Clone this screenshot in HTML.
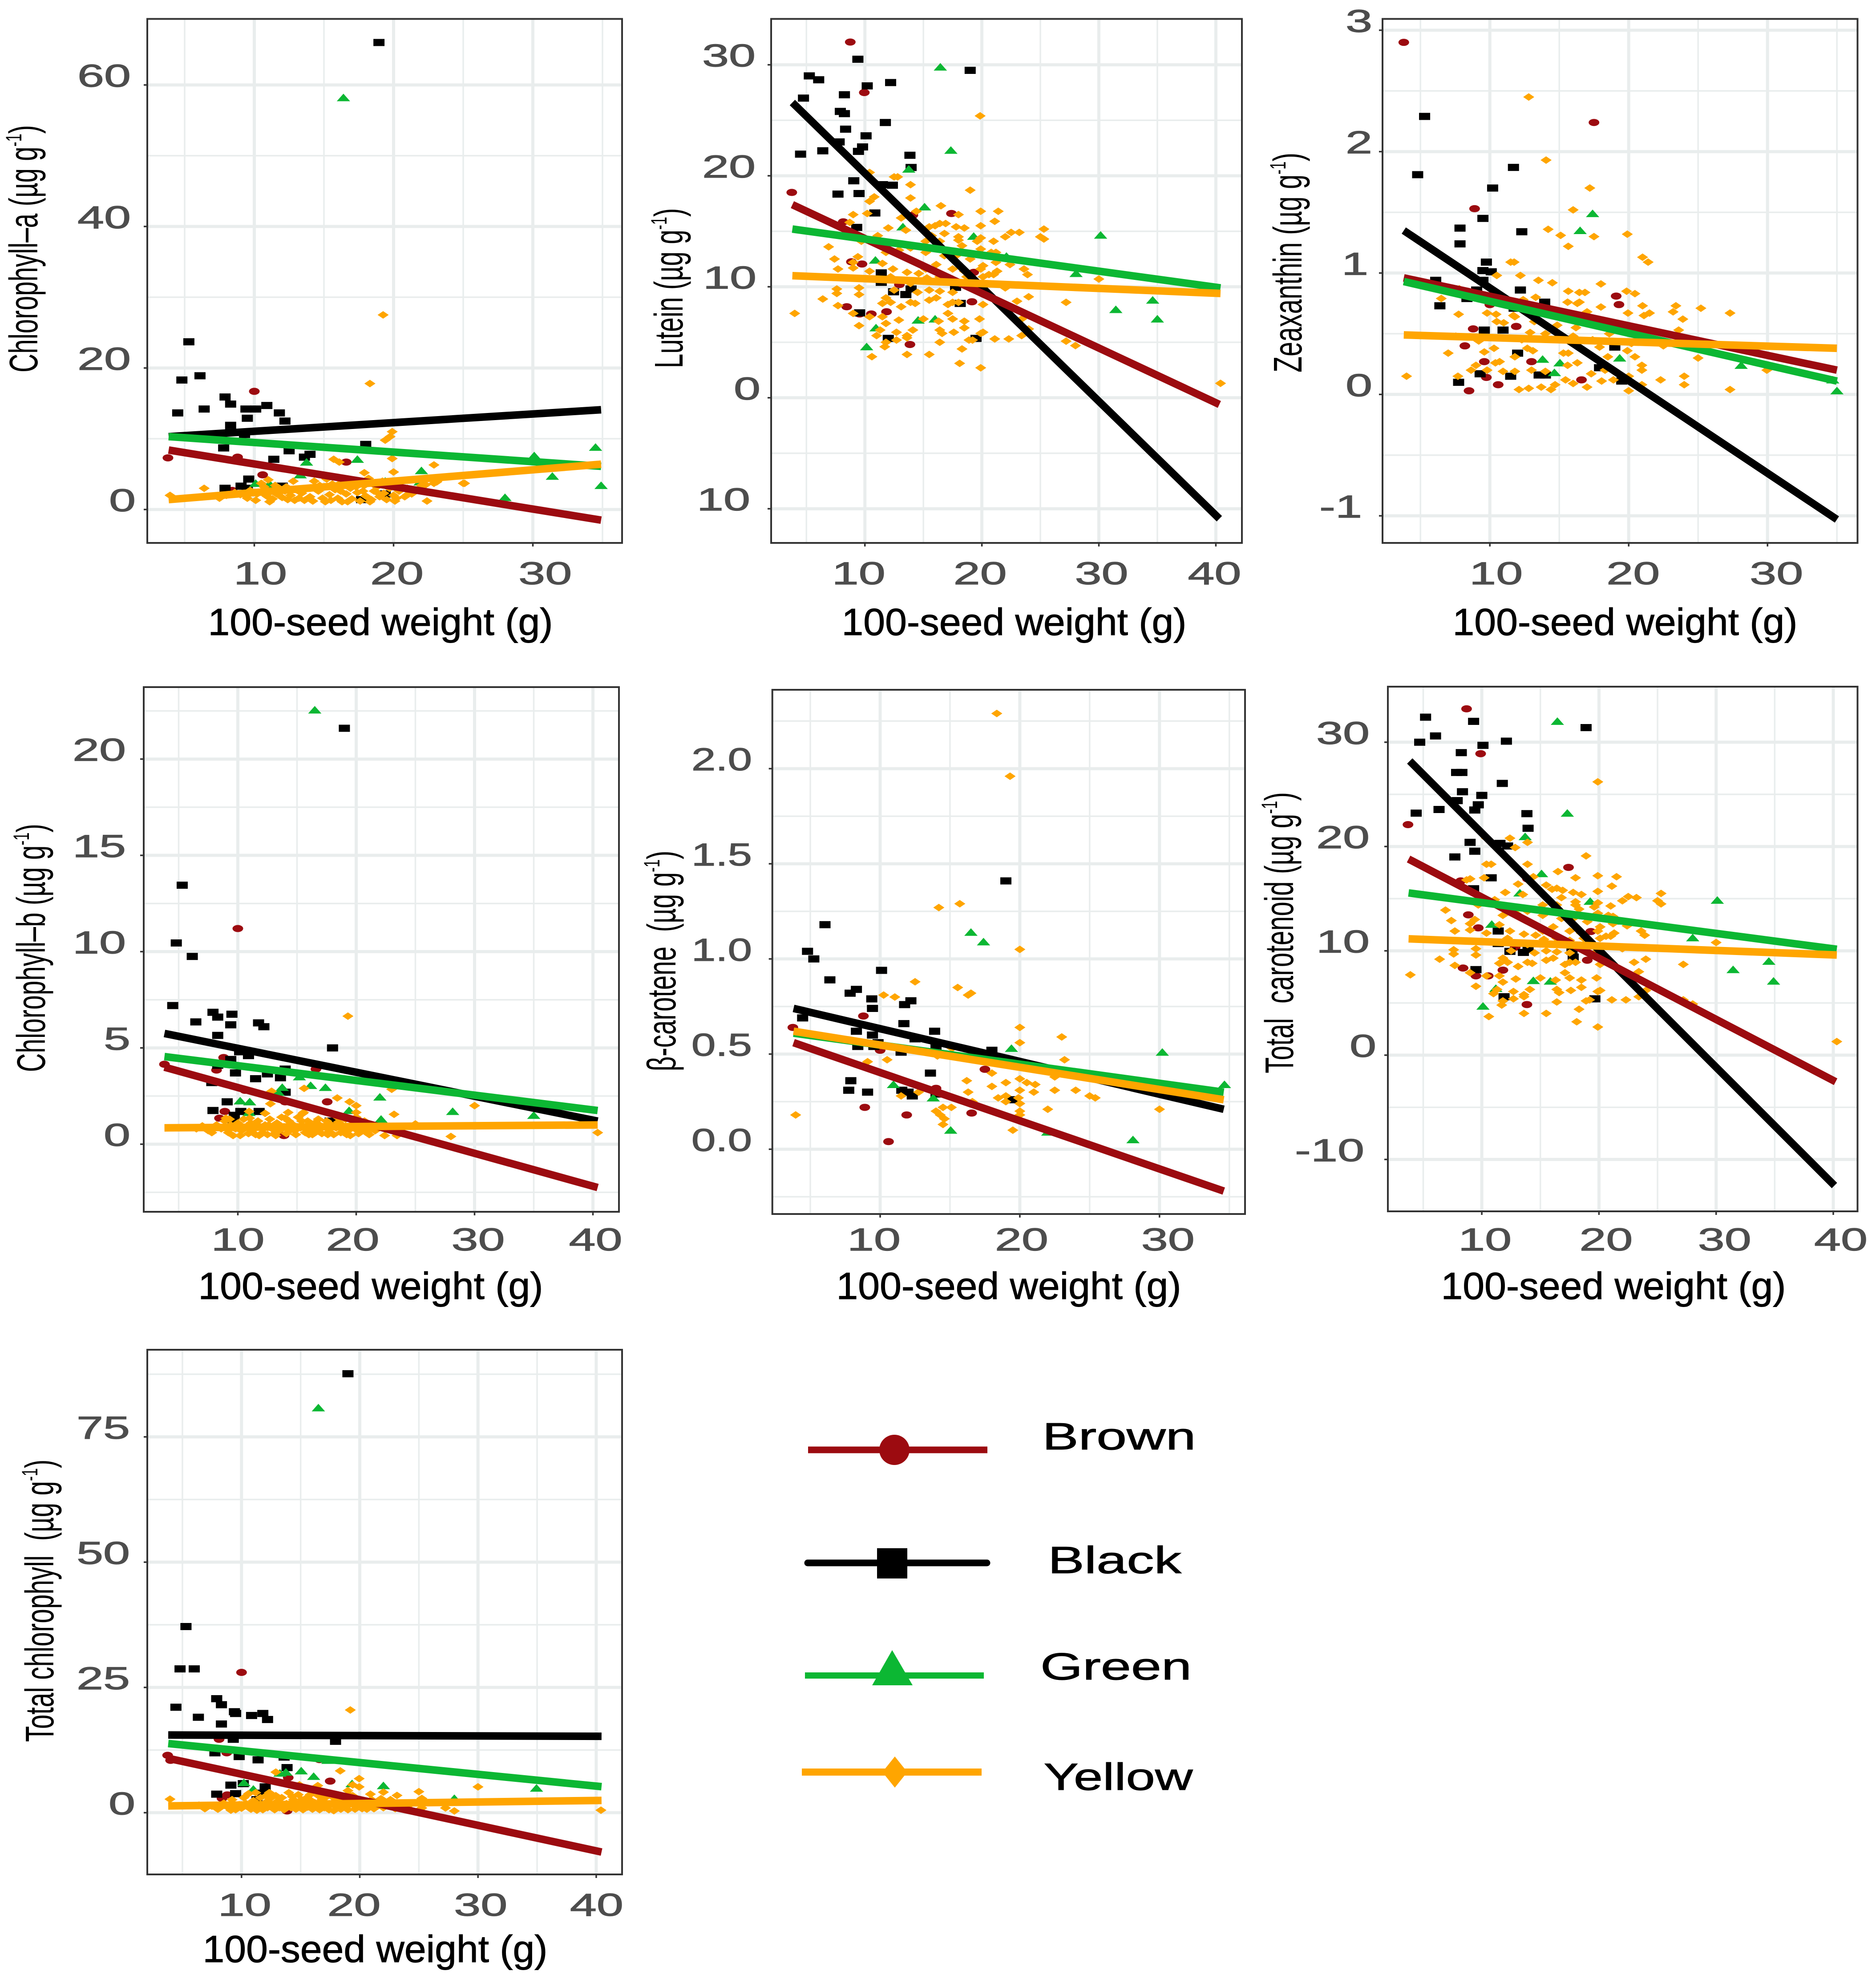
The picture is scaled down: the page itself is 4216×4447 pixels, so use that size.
<!DOCTYPE html>
<html lang="en">
<head>
<meta charset="utf-8">
<title>Seed pigments versus 100-seed weight</title>
<style>
html,body{margin:0;padding:0;background:#fff;}
svg{display:block;font-family:"Liberation Sans",sans-serif;}
</style>
</head>
<body>
<svg id="figure" xmlns="http://www.w3.org/2000/svg" width="4216" height="4447" viewBox="0 0 4216 4447"></svg>
<script>
// ---------- Chlorophyll-a ----------
const chlaBrown=[[10,16.7],[3.8,7.3],[8.8,7.4],[16.6,6.7],[10.6,4.9],[8.4,2.7]];
const chlaBlack=[[18.95,66],[5.3,23.7],[4.8,18.3],[6.1,18.9],[4.5,13.65],[6.4,14.2],[7.9,15.9],[8.3,14.9],[9.4,14.2],[10.1,14.2],[10.9,14.7],[11.8,13.65],[12.2,12.5],[9.5,12.9],[8.3,11.9],[8.3,10.9],[9.3,10.6],[4.5,10.3],[7.8,8.7],[12.5,8.3],[11.4,7.1],[13.6,7.4],[14,7.8],[18,9.2],[9.6,4.3],[7.9,3],[9.05,3.3],[9.5,3],[12,3.3],[11.4,3.1],[17.7,1.4],[19.4,2.2]];
const chlaGreen=[[16.4,58.2],[13.75,6.7],[17.4,7.1],[30.1,7.6],[34.5,8.8],[31.4,4.7],[34.9,3.4],[28,1.7],[22,5.5],[13.3,4.9],[10.1,3.7],[11.1,3.6],[19.4,4],[21.9,3.9]];
const chlaYellow=[[19.25,27.5],[18.3,17.8],[19.9,11],[19.75,10.3],[19.4,9.8],[15.7,7.1],[16.1,6.7],[19.9,7.2],[22.9,6.3],[6.4,3],[25.1,3.7],[25,3.7],[22.4,1.2],[23.1,4],[20,5.3],[17.9,5.2],[3.95,2],[7.5,1.6],[8,2],[8.6,2.4],[9,2.1],[9.5,1.6],[9.7,2.7],[10.1,1.3],[10.2,2.2],[10.5,3.7],[10.7,3.2],[10.9,1.9],[11,4.2],[11.2,2.6],[11.3,1.5],[11.6,2.2],[11.8,3],[12,1.7],[12.2,2.6],[12.4,1.4],[12.6,2],[12.8,4],[13,2.8],[13.2,1.6],[13.4,2.3],[13.6,1.3],[14,1.8],[14,3],[14.3,4],[14.6,2.6],[14.9,1.6],[15,3.2],[15.2,4.3],[15.4,2.1],[15.5,1.3],[15.8,2.8],[16,1.6],[16.1,3.6],[16.3,1.1],[16.6,2.2],[16.9,3],[17,1.5],[17.2,4],[17.4,2.4],[17.6,1.2],[17.9,3.4],[18,1.9],[18.2,4.4],[18.4,1.4],[18.6,2.6],[18.8,3.2],[19,1.8],[19.2,4],[19.3,2.3],[19.5,1.4],[19.7,3],[20,2],[20,3.6],[20.2,1.6],[20.4,2.6],[20.8,1.8],[21,2.1],[21.3,2.2],[22,3.4],[22.3,3.5],[22.9,3.7],[23.1,3.9],[11.1,1.1],[11.5,3.4],[12.3,3.2],[12.9,1.3],[13.7,2.9],[14.2,1.2],[14.7,3.4],[15.1,1.1],[15.6,3.6],[16.2,2.6],[16.7,1.1],[17.3,3.2],[17.8,2.6],[18.3,1.1],[18.9,2.3],[19.6,3.5],[20.1,1.2],[20.5,3.1],[21,3],[21.5,2.7]];
const chlaBlackFit=[[3.85,10.3],[34.9,14.1]];
const chlaBrownFit=[[3.85,8.4],[34.9,-1.5]];
const chlaGreenFit=[[3.85,10.3],[34.9,6.1]];
const chlaYellowFit=[[3.85,1.4],[34.9,6.4]];

// ---------- Lutein ----------
const lutBrown=[[8.75,32.05],[9.95,27.5],[3.75,18.5],[8.15,15.85],[17.4,16.6],[14.1,16.45],[8.85,12.25],[9.75,12.05],[12.95,10.2],[19.3,11.3],[19.15,8.65],[8.45,8.2],[9.55,7.55],[10.55,7.55],[11.85,7.75],[13.85,4.8]];
const lutBlack=[[9.4,30.5],[5.25,29],[6.05,28.65],[10.2,28.1],[12.2,28.4],[8.25,27.3],[4.75,27],[19,29.5],[7.9,25.8],[8.25,25.6],[11.75,24.8],[8.35,24.2],[10.1,23.6],[7.8,23.05],[9.8,22.6],[9.45,22.2],[6.4,22.25],[4.5,21.95],[13.85,21.85],[13.95,20.75],[9.05,19.55],[11.5,19.2],[12.35,19.15],[7.7,18.35],[9.5,18.4],[10.85,16.65],[9.3,15.35],[11.4,11.25],[11.4,10.4],[12.45,9.55],[13.95,9.8],[13.5,9.3],[17.75,9.95],[9.55,7.65],[12,5.35],[19.5,5.35],[18.15,8.5]];
const lutGreen=[[16.45,29.8],[17.35,22.3],[13.75,20.6],[15.1,17.2],[13.25,15.4],[19.3,14.55],[30.15,14.65],[22.1,12.75],[10.9,12.4],[28.05,11.2],[34.6,8.8],[31.45,7.95],[35,7.1],[14.55,7],[16,7.1],[10.15,4.6],[10.95,6.3]];
const lutYellow=[[19.85,25.4],[4,7.6],[40.4,1.3],[19,18.7],[10.4,20.3],[12.5,19.9],[12.8,19.9],[13.9,19.2],[13.9,18],[10.8,18.1],[10.4,17.7],[16.5,17.3],[14.4,16.8],[19.9,16.8],[21.4,16.8],[18,16.5],[10.2,16.6],[9,16.5],[13.1,16.2],[21.1,15.9],[8.7,15.8],[16.4,15.7],[15.5,15.4],[16,15.5],[16.9,15.7],[17.8,15.4],[18.5,15.3],[19.9,15.5],[12,15.3],[13.5,15.1],[25.3,15.2],[23.2,14.9],[22.5,14.9],[22,14.5],[25,14.5],[25.3,14.3],[16.8,14.8],[15.7,14.6],[11.1,14.6],[18,14.5],[18,14.2],[19.9,14.4],[19.6,14.1],[21,14.1],[16.4,14.1],[15.2,14.1],[6.9,13.6],[9.7,14.1],[18.3,13.7],[19.9,13.4],[20.8,13.1],[21.2,13.1],[7.4,12.5],[9.4,12.7],[9,12.2],[15.2,13.1],[13.9,13.5],[12.9,13.3],[11.8,13.1],[16.8,12.8],[17.8,12.8],[19,12.5],[20.1,11.9],[21.2,12.2],[22.4,12],[23.6,11.6],[23.9,11.1],[7.7,11.6],[9,11.7],[11.5,12.1],[10.4,11.4],[12.4,11.6],[13.6,11.3],[14.6,11.2],[15.2,11.6],[16.1,12],[17.5,11.6],[18.5,11.4],[19.9,11.6],[20.6,11.1],[21.3,11.4],[12.2,10.9],[15.3,10.8],[16.4,10.9],[17.5,10.7],[18.7,10.9],[20.1,10.9],[21,11.1],[7.6,9.8],[7.6,9.4],[9.5,9.9],[9.5,9.3],[6.4,8.9],[7.7,8.3],[11.8,9],[12.5,9.7],[13.9,10.3],[14.5,9.5],[15.5,9.7],[16.4,9.6],[17.5,9.5],[18.5,10.1],[19.9,9.7],[22,9.9],[11.5,8.5],[12.2,8.6],[13.1,8.2],[13.9,8.6],[14.3,8.5],[15.5,8.8],[16.1,9],[17.1,8.4],[17.5,8.6],[18,8.6],[20.1,8.4],[23,8.7],[24,9.1],[27.2,8.6],[30,10.7],[9,7.6],[10.4,7.3],[11.5,7.3],[11.8,6.7],[12.9,7],[15,7.1],[16.3,6.9],[17.1,7.6],[17.5,7.1],[18.5,6.9],[19.8,7.1],[23.4,7.1],[9.5,6.5],[11.3,6.1],[11,5.6],[12.7,5.9],[13.6,5.6],[14.1,6.1],[16.4,6.1],[16.6,5.8],[17.6,5.9],[18.5,6.3],[19.9,5.8],[20.1,5.9],[11.8,5],[11.7,4.6],[12.7,5.2],[13.6,5.4],[16.4,5],[18.9,5.2],[19.2,5.2],[21.1,5.3],[22.3,5.3],[23.4,5.6],[24,6.2],[27.2,5.1],[28,4.7],[10.6,3.7],[13.6,3.9],[15.5,3.9],[18.3,4.4],[18.1,3.1],[19.9,2.7]];
const lutBlackFit=[[3.8,26.6],[40.3,-10.9]];
const lutBrownFit=[[3.8,17.4],[40.3,-0.6]];
const lutGreenFit=[[3.8,15.2],[40.4,9.9]];
const lutYellowFit=[[3.8,11],[40.4,9.4]];

// ---------- Zeaxanthin ----------
const zeaBrown=[[3.8,2.9],[17.5,2.24],[8.9,1.53],[19.1,0.81],[19.3,0.74],[10,0.74],[11.9,0.56],[8.8,0.54],[8.2,0.4],[9.6,0.27],[13,0.27],[9.75,0.14],[10.6,0.08],[8.5,0.03],[16.6,0.12]];
const zeaBlack=[[5.3,2.29],[4.8,1.81],[11.7,1.87],[10.2,1.7],[9.5,1.45],[7.85,1.37],[7.85,1.24],[12.3,1.34],[9.75,1.09],[9.5,1.02],[10.1,1.01],[6.1,0.94],[9.5,0.94],[9.05,0.86],[12.2,0.86],[8.35,0.79],[13.95,0.76],[6.4,0.73],[11.75,0.71],[9.6,0.53],[10.95,0.53],[12,0.34],[19,0.39],[9.3,0.17],[7.75,0.1],[13.55,0.16],[14,0.16],[11.5,0.15],[17.9,0.22],[19.5,0.11]];
const zeaGreen=[[17.4,1.49],[16.5,1.35],[13.8,0.29],[15.05,0.26],[14.65,0.18],[19.35,0.3],[28.1,0.24],[35,0.03],[34.7,0.12]];
const zeaYellow=[[12.8,2.45],[14.05,1.93],[17.2,1.7],[16,1.52],[14.2,1.36],[15.1,1.31],[15.65,1.22],[17.5,1.3],[19.9,1.32],[21,1.13],[21.4,1.09],[11.5,1.09],[11.75,1.09],[10.5,0.98],[12.2,0.98],[13.5,0.94],[14.5,0.92],[18,0.91],[15.65,0.85],[16.45,0.84],[16.85,0.84],[19.85,0.85],[20.45,0.83],[6.5,0.79],[7.8,0.87],[13.3,0.8],[15.6,0.76],[16.3,0.75],[16.45,0.76],[18,0.72],[21,0.73],[12.4,0.78],[7.75,0.66],[9.8,0.67],[10.45,0.66],[11.7,0.65],[17,0.68],[19.95,0.67],[21.1,0.65],[21.5,0.67],[23.2,0.68],[23.4,0.73],[25.2,0.71],[27.3,0.67],[23.9,0.62],[10.5,0.6],[11,0.59],[11.8,0.64],[16.2,0.55],[14.85,0.57],[23.6,0.53],[7.55,0.48],[12.9,0.51],[14,0.5],[16,0.48],[22.5,0.4],[25,0.3],[29.95,0.2],[7,0.34],[9.6,0.35],[10.3,0.38],[12.7,0.38],[13.1,0.36],[15.3,0.34],[15.65,0.34],[17.9,0.39],[18.5,0.31],[19.9,0.36],[20.45,0.31],[9,0.24],[10.7,0.27],[10.4,0.26],[11.8,0.31],[13,0.2],[14,0.19],[15.6,0.24],[16.3,0.26],[17.3,0.17],[20.95,0.24],[20.95,0.2],[8.65,0.2],[9.8,0.2],[10.95,0.19],[11.8,0.19],[4,0.15],[7.7,0.15],[24,0.15],[22.3,0.12],[24,0.08],[27.3,0.04],[12.1,0.04],[12.8,0.05],[13.7,0.06],[14.4,0.04],[14.7,0.08],[15.45,0.12],[16,0.09],[17,0.06],[18.05,0.11],[18.9,0.12],[20,0.03],[20.95,0.08],[20,0.15],[18.3,0.2],[19,0.19],[12.3,0.45],[13.2,0.6],[17.4,0.45],[18.6,0.5],[20.2,0.42],[21.6,0.45],[9.2,0.44]];
const zeaBlackFit=[[3.8,1.35],[35,-1.03]];
const zeaBrownFit=[[3.8,0.96],[35,0.2]];
const zeaGreenFit=[[3.8,0.93],[35,0.11]];
const zeaYellowFit=[[3.8,0.49],[35,0.38]];

// ---------- Chlorophyll-b ----------
const chlbBrown=[[10,11.2],[3.8,4.15],[8.8,4.5],[8.2,3.85],[16.6,3.9],[17.55,2.2],[14,2.2],[10.6,2.8],[8.9,1.7],[8.45,1.35],[13.9,0.45]];
const chlbBlack=[[19,21.6],[5.3,13.45],[4.8,10.45],[6.15,9.75],[4.5,7.2],[6.45,6.35],[7.9,6.85],[8.3,6.6],[9.5,6.75],[9.4,6.2],[11.75,6.3],[12.2,6.1],[8.3,5.65],[18,5],[10.15,4.8],[10.9,4.6],[9.4,4.4],[8.3,4.1],[9.8,3.7],[11.5,3.4],[12.5,3.65],[13.6,3.45],[14,3.9],[7.8,3.2],[14,2.7],[9.1,2.2],[7.9,1.75],[10.25,1.7],[9.7,1.5],[11.8,1.7],[9.6,1.2],[17.8,1.2]];
const chlbGreen=[[16.5,22.55],[13.75,2.95],[16.15,3.05],[17.4,2.95],[15.2,3.5],[22,2.45],[10.2,2.25],[11,2.2],[13.4,2.7],[19.4,1.75],[28.15,1.7],[35,1.5],[22.1,1.3],[10.95,1.65]];
const chlbYellow=[[19.3,6.65],[23,2.85],[12.85,2.75],[15.6,2.9],[18.4,2.4],[19.45,2.2],[12.75,2.1],[30,2],[23.2,1.55],[28,0.4],[40.4,0.6],[10.95,1.7],[9,1.35],[12.3,1.6],[14.25,1.65],[15.55,1.65],[20,2],[20,1.65],[22.4,0.45],[23.45,0.45],[6.5,0.8],[7,0.95],[7.5,0.7],[7.8,0.6],[8.2,1],[8.6,0.8],[8.9,1.2],[9.2,0.6],[9.4,1],[9.6,0.45],[9.8,0.8],[10,1.1],[10.3,0.7],[10.5,1.3],[10.7,0.9],[10.9,0.55],[11.1,1.1],[11.3,0.75],[11.5,0.5],[11.7,1.2],[11.9,0.9],[12.1,0.6],[12.3,1],[12.5,0.5],[12.7,1.3],[12.9,0.8],[13.1,0.55],[13.3,1.1],[13.5,0.7],[13.7,1.4],[13.9,0.9],[14.1,0.55],[14.3,1.2],[14.5,0.75],[14.7,1],[14.9,0.5],[15.1,1.4],[15.3,0.85],[15.5,1.6],[15.7,0.6],[15.9,1.2],[16.1,0.8],[16.3,0.5],[16.5,1.1],[16.7,0.7],[16.9,1],[17.1,0.55],[17.3,0.9],[17.5,1.2],[17.7,0.65],[17.9,1],[18.1,0.5],[18.3,0.85],[18.5,1.15],[18.7,0.6],[18.9,0.95],[19.1,1.3],[19.3,0.7],[19.5,0.45],[19.7,1.05],[19.9,0.8],[20,1.4],[20.2,0.55],[20.4,0.9],[20.6,0.7],[20.9,0.6],[21.2,0.85],[21.6,0.7],[25,1.05],[9.3,1.3],[10.2,0.45],[11,1.35],[11.8,0.45],[12.6,1],[13.2,0.45],[14,1.35],[14.8,0.7],[15.4,1.2],[16,0.5],[16.8,1.3],[17.6,0.5],[18.4,1.4],[19.2,0.5],[20.1,1.1],[20.7,1.2],[21.1,0.5]];
const chlbBlackFit=[[3.8,5.75],[40.4,1.2]];
const chlbBrownFit=[[3.8,4],[40.4,-2.25]];
const chlbGreenFit=[[3.8,4.55],[40.4,1.75]];
const chlbYellowFit=[[3.8,0.85],[40.4,1]];

// ---------- Beta-carotene ----------
const betaBrown=[[3.75,0.64],[8.8,0.7],[10,0.52],[17.5,0.42],[14,0.32],[16.55,0.19],[8.9,0.22],[11.9,0.18],[10.6,0.04]];
const betaBlack=[[19,1.41],[6.05,1.18],[4.8,1.04],[5.25,1],[6.4,0.89],[10.1,0.94],[7.85,0.82],[8.3,0.84],[9.4,0.79],[9.45,0.74],[12.2,0.78],[11.75,0.76],[4.45,0.69],[11.7,0.66],[13.9,0.62],[8.3,0.62],[9.45,0.6],[12.5,0.58],[8.4,0.54],[9.55,0.54],[9.85,0.56],[14,0.54],[18,0.52],[11.5,0.51],[13.6,0.4],[7.9,0.36],[7.75,0.31],[9.1,0.3],[11.55,0.31],[12,0.3],[12.3,0.28],[14,0.29],[19.45,0.26]];
const betaGreen=[[16.5,1.14],[17.4,1.09],[19.4,0.53],[30.2,0.51],[34.65,0.34],[10.95,0.34],[13.8,0.27],[15.05,0.1],[28.1,0.05],[22,0.09]];
const betaYellow=[[18.35,2.29],[19.3,1.96],[14.2,1.27],[15.7,1.29],[20,1.05],[12.5,0.88],[10.25,0.81],[11.05,0.8],[15.55,0.85],[16.5,0.82],[16.3,0.81],[20,0.64],[20,0.56],[23,0.59],[23.2,0.47],[10.5,0.47],[9.1,0.46],[15.15,0.53],[14.1,0.49],[18,0.4],[16.2,0.36],[16.3,0.3],[18,0.33],[19,0.35],[20,0.37],[20.5,0.35],[21.1,0.34],[21,0.3],[20,0.31],[22.5,0.38],[22.5,0.31],[24,0.31],[25,0.28],[25.4,0.27],[22,0.21],[30,0.21],[3.95,0.18],[11.5,0.28],[12.75,0.3],[14.5,0.22],[15.1,0.22],[14,0.2],[14.3,0.18],[14.6,0.16],[14.5,0.13],[18.45,0.27],[19,0.28],[19,0.25],[19.9,0.27],[20,0.24],[20,0.2],[20,0.18],[19.5,0.1],[16.6,0.25]];
const betaBlackFit=[[3.8,0.74],[34.6,0.21]];
const betaBrownFit=[[3.8,0.56],[34.6,-0.22]];
const betaGreenFit=[[3.8,0.61],[34.6,0.3]];
const betaYellowFit=[[3.8,0.62],[34.6,0.26]];

// ---------- Total carotenoid ----------
const caroBrown=[[8.7,33.2],[9.9,28.9],[3.7,22.1],[17.4,18],[8.2,16.7],[13.9,16.9],[8.85,13.45],[9.7,12.2],[12.85,10.35],[19.3,11.85],[19,9.1],[8.4,8.35],[9.5,7.6],[10.55,7.6],[11.8,8.15],[13.85,4.85]];
const caroBlack=[[5.2,32.4],[9.3,32],[4.7,30],[6.05,30.6],[10.1,29.7],[12.1,30.1],[8.25,29],[18.9,31.4],[7.85,27.1],[8.3,27.1],[11.75,26.05],[8.35,25.25],[10,24.9],[7.9,24.4],[9.7,24],[9.4,23.5],[6.35,23.55],[4.4,23.2],[13.85,23.15],[13.95,21.75],[9,20.4],[11.55,20.3],[12.2,20.05],[7.7,19],[9.4,19.55],[10.8,17],[9.3,15.95],[11.4,11.9],[11.4,10.7],[12.4,9.95],[13.95,10.15],[13.55,9.85],[17.7,9.95],[9.5,8.2],[11.9,5.6],[19.65,5.4],[17.8,9.4]];
const caroGreen=[[16.45,32],[17.3,23.2],[13.7,20.95],[15.1,17.4],[13.25,15.55],[19.25,14.75],[30.1,14.85],[21.95,12.85],[10.85,12.55],[28,11.25],[34.5,9],[31.45,8.2],[34.9,7.1],[14.4,7.15],[15.85,7.1],[10.1,4.7],[11.2,6.4]];
const caroYellow=[[19.9,26.2],[3.9,7.7],[40.3,1.3],[18.9,19.1],[10.4,20.8],[12.4,20.8],[12.85,19.9],[13.9,20.4],[13.9,18.3],[10.8,18.3],[10.4,18.3],[16.5,17.6],[14.4,17.1],[19.9,17.2],[21.5,17.1],[18,17],[10.2,17],[9,16.9],[13.1,16.4],[21.1,16.2],[8.7,16.8],[16.4,16],[15.5,16.3],[16,15.9],[16.9,15.8],[17.8,15.6],[18.5,15.4],[19.9,15.7],[12,15.6],[13.5,15.4],[25.3,15.5],[23.2,15.1],[22.5,15.2],[22,14.8],[25,14.8],[25.3,14.5],[16.8,15.1],[15.7,14.9],[11.1,14.9],[18,14.7],[18,14.4],[19.9,14.6],[19.6,14.2],[21,14.3],[16.4,14.4],[15.2,14.4],[6.9,13.9],[9.7,14.4],[18.3,14],[19.9,13.6],[20.8,13.4],[21.2,13.3],[7.4,12.9],[9.4,13],[9,12.6],[15.2,13.4],[13.9,13.8],[12.9,13.6],[11.8,13.4],[16.8,13.1],[17.8,13.1],[19,12.8],[20.1,12.3],[21.2,12.6],[22.4,12.4],[23.6,11.9],[23.9,11.5],[7.7,11.9],[9,12],[11.5,12.5],[10.4,11.7],[12.4,11.9],[13.6,11.6],[14.6,11.5],[15.2,11.9],[16.1,12.3],[17.5,11.9],[18.5,11.7],[19.9,11.9],[20.6,11.4],[21.3,11.7],[12.2,11.2],[15.3,11.1],[16.4,11.2],[17.5,11],[18.7,11.2],[20.1,11.2],[21,11.4],[7.6,10.1],[7.6,9.7],[9.5,10.2],[9.5,9.6],[6.4,9.2],[7.7,8.6],[11.8,9.3],[12.5,10],[13.9,10.6],[14.5,9.8],[15.5,10],[16.4,9.9],[17.5,9.8],[18.5,10.4],[19.9,10],[22,10.2],[11.5,8.8],[12.2,8.9],[13.1,8.5],[13.9,8.9],[14.3,8.8],[15.5,9.1],[16.1,9.3],[17.1,8.7],[17.5,8.9],[18,8.9],[20.1,8.7],[23,8.9],[24,9.2],[27.2,8.7],[30,10.8],[9,7.9],[10.4,7.6],[11.5,7.6],[11.8,7],[12.9,7.3],[15,7.4],[16.3,7.2],[17.1,7.9],[17.5,7.4],[18.5,7.2],[19.8,7.4],[23.4,8],[9.5,6.6],[11.3,6.3],[11,5.9],[12.7,6.1],[13.6,5.8],[14.1,6.3],[16.4,6.3],[16.6,6],[17.6,6.2],[18.5,6.5],[19.9,6.1],[20.1,6.2],[11.8,5.2],[11.7,4.8],[12.7,5.4],[13.6,5.6],[16.4,5.1],[18.9,5.2],[19.2,5.3],[21.1,5.3],[22.3,5.3],[23.4,5.6],[24,6.2],[27.2,5.3],[28,4.9],[10.6,3.7],[13.6,4],[15.5,4],[18.3,4.4],[18.1,3.2],[19.9,2.7]];
const caroBlackFit=[[3.85,28.2],[40.1,-12.5]];
const caroBrownFit=[[3.75,18.8],[40.2,-2.55]];
const caroGreenFit=[[3.75,15.55],[40.3,10.15]];
const caroYellowFit=[[3.75,11.15],[40.3,9.6]];

// ---------- Total chlorophyll ----------
const totBrown=[[3.75,11.45],[10,28],[8.1,14.65],[8.75,11.95],[4,10.45],[16.6,10.6],[13.95,7],[17.5,6.3],[8.8,3.55],[8.35,2.85],[13.85,0.35]];
const totBlack=[[19,87.6],[5.3,37.15],[4.8,28.7],[6,28.7],[4.45,21.05],[7.9,22.75],[8.3,21.55],[6.35,19.05],[9.4,20.15],[9.5,19.8],[10.85,19.4],[11.8,19.8],[12.2,18.6],[8.3,17.7],[9.3,14.65],[17.95,14.25],[7.75,11.95],[9.8,11.2],[11.4,10.55],[13.6,11.1],[13.85,9],[9.1,5.5],[10.15,5.8],[12,5.15],[7.9,3.7],[9.5,3.8],[11.8,3.9],[11.3,2.6]];
const totGreen=[[16.5,80.8],[17.3,10.45],[15.05,8.35],[13.75,8.1],[13.25,7.9],[16.1,7.25],[10.2,6],[11,4.7],[19.35,5.8],[22,5.4],[34.95,4.9],[28,2.85]];
const totYellow=[[19.2,20.5],[18.35,8.35],[12.9,8.1],[19.95,6.8],[30,5.15],[19.4,5.55],[16.45,5.4],[19.95,5.15],[19,4.4],[25,4.2],[22,4.1],[20.9,3.7],[23.15,3.45],[12.35,4],[25.25,2.85],[3.95,2.7],[28,0.35],[27.25,0.95],[40.4,0.5],[25.25,0.95],[14.9,5.55],[6.4,1.5],[6.9,0.8],[7.5,1.3],[8,0.7],[8.5,1.9],[8.9,1],[9.2,2.6],[9.5,0.6],[9.8,1.6],[10,0.9],[10.2,3],[10.4,1.8],[10.6,3.8],[10.8,0.7],[11,2.4],[11.2,4],[11.4,1.3],[11.6,3],[11.8,0.6],[12,2],[12.2,1],[12.4,2.8],[12.6,1.5],[12.8,0.6],[13,2.2],[13.2,1],[13.4,3],[13.6,0.6],[13.8,1.8],[14,4],[14.2,1],[14.4,2.6],[14.6,0.7],[14.8,3.6],[15,1.5],[15.2,0.6],[15.4,2.8],[15.6,1.1],[15.8,3.6],[16,0.7],[16.2,2],[16.4,1.3],[16.6,0.6],[16.8,2.6],[17,1],[17.2,3.2],[17.4,0.6],[17.6,1.8],[17.8,0.4],[18,1.2],[18.2,2.4],[18.4,0.7],[18.6,3],[18.8,1.1],[19,0.6],[19.2,2],[19.4,3.4],[19.6,0.7],[19.8,1.5],[20,2.6],[20.2,0.8],[20.4,1.6],[20.6,0.7],[20.9,1.2],[21.2,0.8],[21.5,1.6],[22,1],[22.5,1.4],[23,0.8],[24,1.2],[9.1,0.5],[10.1,1.4],[10.9,2],[11.3,0.5],[12.1,3.4],[12.9,3.4],[13.5,1.4],[14.3,3.2],[15.1,2.6],[15.9,2.4],[16.5,3.4],[17.1,1.8],[17.9,2.8],[18.5,1.6],[19.1,3.6],[19.7,2.4],[20.3,2.2],[21,2.6],[21.8,2.8],[22.6,2.6]];
const totBlackFit=[[3.8,15.5],[40.45,15.25]];
const totBrownFit=[[3.8,10.85],[40.45,-7.85]];
const totGreenFit=[[3.8,13.8],[40.45,5.2]];
const totYellowFit=[[3.8,1.35],[40.45,2.45]];

// ---------- Axis tick values and labels ----------
const chlaXTicks=[10,20,30], chlaXMinor=[5,15,25,35], chlaYTicks=[60,40,20,0], chlaYMinor=[50,30,10], chlaYLabels=['60','40','20','0'];
const lutXTicks=[10,20,30,40], lutXMinor=[5,15,25,35], lutYTicks=[30,20,10,0,-10], lutYMinor=[25,15,5,-5], lutYLabels=['30','20','10','0','10'];
const zeaXTicks=[10,20,30], zeaXMinor=[5,15,25,35], zeaYTicks=[3,2,1,0,-1], zeaYMinor=[2.5,1.5,0.5,-0.5], zeaYLabels=['3','2','1','0','-1'];
const chlbXTicks=[10,20,30,40], chlbXMinor=[5,15,25,35], chlbYTicks=[20,15,10,5,0], chlbYMinor=[22.5,17.5,12.5,7.5,2.5,-2.5], chlbYLabels=['20','15','10','5','0'];
const betaXTicks=[10,20,30], betaXMinor=[5,15,25,35], betaYTicks=[2,1.5,1,0.5,0], betaYMinor=[2.25,1.75,1.25,0.75,0.25,-0.25], betaYLabels=['2.0','1.5','1.0','0.5','0.0'];
const caroXTicks=[10,20,30,40], caroXMinor=[5,15,25,35], caroYTicks=[30,20,10,0,-10], caroYMinor=[25,15,5,-5], caroYLabels=['30','20','10','0','-10'];
const totXTicks=[10,20,30,40], totXMinor=[5,15,25,35], totYTicks=[75,50,25,0], totYMinor=[87.5,62.5,37.5,12.5], totYLabels=['75','50','25','0'];
const xLabels10=['10','20','30'], xLabels10to40=['10','20','30','40'];

const colors={brown:'#9c0b10',black:'#000000',green:'#0cb733',yellow:'#ffa500'};
const svgNS='http://www.w3.org/2000/svg';
const figure=document.getElementById('figure');

function node(parent,tag,attrs){
  const el=document.createElementNS(svgNS,tag);
  for(const k in attrs){el.setAttribute(k,attrs[k]);}
  parent.appendChild(el);
  return el;
}
// Fits a text element to a measured length, keeping glyph height set by font-size.
function fitText(el,cx,cy,rotate,target){
  const len=el.getComputedTextLength();
  const k=target/len;
  el.setAttribute('transform','translate('+cx+' '+cy+')'+(rotate?' rotate(-90)':'')+' scale('+k+' 1)');
}
function drawCircle(g,px,py){
  const el=node(g,'ellipse',{cx:px,cy:py,rx:12,ry:8,fill:colors.brown});
  
  
}
function drawSquare(g,px,py){
  const el=node(g,'rect',{x:px-12.5,y:py-8,width:25,height:16,fill:colors.black});
  
  
}
function drawTriangle(g,px,py){
  const el=node(g,'path',{d:'M'+px+' '+(py-9)+'L'+(px+15)+' '+(py+8)+'L'+(px-15)+' '+(py+8)+'Z',fill:colors.green});
  
  
}
function drawDiamond(g,px,py){
  const el=node(g,'path',{d:'M'+px+' '+(py-8.5)+'L'+(px+12.5)+' '+py+'L'+px+' '+(py+8.5)+'L'+(px-12.5)+' '+py+'Z',fill:colors.yellow});
  
  
}

const panels=[
 {id:'chlorophyll-a',left:331,right:1398,top:42.5,bottom:1220,xAt10:571.5,xPerUnit:31.3,yAt0:1144.9,yPerUnit:15.9,
  xTicks:chlaXTicks,xMinor:chlaXMinor,yTicks:chlaYTicks,yMinor:chlaYMinor,yLabels:chlaYLabels,xLabels:xLabels10,
  xLabelDx:[13.5,7.5,27.7],xLabelY:1288,yLabelRight:[294,294,294,305],yLabelScale:1.52,
  xTitleX:855,xTitleW:775,xTitleY:1427,yTitle:['Chlorophyll\u2013a (\u00b5g g','-1',')'],yTitleX:84,yTitleY:559,yTitleLen:556,
  brown:chlaBrown,black:chlaBlack,green:chlaGreen,yellow:chlaYellow,
  brownFit:chlaBrownFit,blackFit:chlaBlackFit,greenFit:chlaGreenFit,yellowFit:chlaYellowFit},
 {id:'lutein',left:1733,right:2791,top:42.5,bottom:1220,xAt10:1943.7,xPerUnit:26.29,yAt0:893.8,yPerUnit:24.94,
  xTicks:lutXTicks,xMinor:lutXMinor,yTicks:lutYTicks,yMinor:lutYMinor,yLabels:lutYLabels,xLabels:xLabels10to40,
  xLabelDx:[-14,-4,6,-3],xLabelY:1288,yLabelRight:[1698,1698,1700,1709,1686],yLabelScale:1.52,
  xTitleX:2279,xTitleW:775,xTitleY:1427,yTitle:['Lutein (\u00b5g g','-1',')'],yTitleX:1534,yTitleY:647.5,yTitleLen:360,
  brown:lutBrown,black:lutBlack,green:lutGreen,yellow:lutYellow,
  brownFit:lutBrownFit,blackFit:lutBlackFit,greenFit:lutGreenFit,yellowFit:lutYellowFit},
 {id:'zeaxanthin',left:3107,right:4174.5,top:42.5,bottom:1220,xAt10:3348.2,xPerUnit:31.2,yAt0:886.3,yPerUnit:272.8,
  xTicks:zeaXTicks,xMinor:zeaXMinor,yTicks:zeaYTicks,yMinor:zeaYMinor,yLabels:zeaYLabels,xLabels:xLabels10,
  xLabelDx:[14,10,20],xLabelY:1288,yLabelRight:[3084,3084,3075,3084,3061],yLabelScale:1.52,
  xTitleX:3652,xTitleW:775,xTitleY:1427,yTitle:['Zeaxanthin (\u00b5g g','-1',')'],yTitleX:2925,yTitleY:590,yTitleLen:494,
  brown:zeaBrown,black:zeaBlack,green:zeaGreen,yellow:zeaYellow,
  brownFit:zeaBrownFit,blackFit:zeaBlackFit,greenFit:zeaGreenFit,yellowFit:zeaYellowFit},
 {id:'chlorophyll-b',left:323,right:1391,top:1544,bottom:2723,xAt10:534.5,xPerUnit:26.6,yAt0:2571.1,yPerUnit:43.27,
  xTicks:chlbXTicks,xMinor:chlbXMinor,yTicks:chlbYTicks,yMinor:chlbYMinor,yLabels:chlbYLabels,xLabels:xLabels10to40,
  xLabelDx:[0,-8,8,6],xLabelY:2785,yLabelRight:[283,283,283,293,293],yLabelScale:1.52,
  xTitleX:833,xTitleW:775,xTitleY:2919,yTitle:['Chlorophyll\u2013b (\u00b5g g','-1',')'],yTitleX:101,yTitleY:2130,yTitleLen:558,
  brown:chlbBrown,black:chlbBlack,green:chlbGreen,yellow:chlbYellow,
  brownFit:chlbBrownFit,blackFit:chlbBlackFit,greenFit:chlbGreenFit,yellowFit:chlbYellowFit},
 {id:'beta-carotene',left:1735.7,right:2798,top:1550,bottom:2728,xAt10:1978,xPerUnit:31.39,yAt0:2582.4,yPerUnit:427.6,
  xTicks:betaXTicks,xMinor:betaXMinor,yTicks:betaYTicks,yMinor:betaYMinor,yLabels:betaYLabels,xLabels:xLabels10,
  xLabelDx:[-14,4,19],xLabelY:2785,yLabelRight:[1690,1690,1690,1690,1690],yLabelScale:1.38,
  xTitleX:2267,xTitleW:775,xTitleY:2919,yTitle:['\u03b2-carotene  (\u00b5g g','-1',')'],yTitleX:1518,yTitleY:2159.5,yTitleLen:496,
  brown:betaBrown,black:betaBlack,green:betaGreen,yellow:betaYellow,
  brownFit:betaBrownFit,blackFit:betaBlackFit,greenFit:betaGreenFit,yellowFit:betaYellowFit},
 {id:'total-carotenoid',left:3119,right:4174.5,top:1543,bottom:2722,xAt10:3330.1,xPerUnit:26.33,yAt0:2371,yPerUnit:23.44,
  xTicks:caroXTicks,xMinor:caroXMinor,yTicks:caroYTicks,yMinor:caroYMinor,yLabels:caroYLabels,xLabels:xLabels10to40,
  xLabelDx:[7,16,19,17],xLabelY:2785,yLabelRight:[3078,3078,3078,3093,3066],yLabelScale:1.52,
  xTitleX:3626,xTitleW:775,xTitleY:2919,yTitle:['Total  carotenoid (\u00b5g g','-1',')'],yTitleX:2906,yTitleY:2096,yTitleLen:632,
  brown:caroBrown,black:caroBlack,green:caroGreen,yellow:caroYellow,
  brownFit:caroBrownFit,blackFit:caroBlackFit,greenFit:caroGreenFit,yellowFit:caroYellowFit},
 {id:'total-chlorophyll',left:331,right:1398,top:3033,bottom:4212,xAt10:542.8,xPerUnit:26.57,yAt0:4073.3,yPerUnit:11.26,
  xTicks:totXTicks,xMinor:totXMinor,yTicks:totYTicks,yMinor:totYMinor,yLabels:totYLabels,xLabels:xLabels10to40,
  xLabelDx:[7,-13,6,1],xLabelY:4280,yLabelRight:[292,292,292,304],yLabelScale:1.52,
  xTitleX:843,xTitleW:775,xTitleY:4409,yTitle:['Total chlorophyll  (\u00b5g g','-1',')'],yTitleX:120,yTitleY:3597,yTitleLen:635,
  brown:totBrown,black:totBlack,green:totGreen,yellow:totYellow,
  brownFit:totBrownFit,blackFit:totBlackFit,greenFit:totGreenFit,yellowFit:totYellowFit}
];

function drawPanel(p){
  const xScale=v=>p.xAt10+(v-10)*p.xPerUnit;
  const yScale=v=>p.yAt0-v*p.yPerUnit;
  const g=node(figure,'g',{});
  
  

  const bg=node(g,'rect',{x:p.left,y:p.top,width:p.right-p.left,height:p.bottom-p.top,fill:'#ffffff'});
  
  

  p.xMinor.forEach(v=>{
    const l=node(g,'line',{x1:xScale(v),x2:xScale(v),y1:p.top,y2:p.bottom,stroke:'#e9eded','stroke-width':3.5});
    
    
  });
  p.yMinor.forEach(v=>{
    const l=node(g,'line',{x1:p.left,x2:p.right,y1:yScale(v),y2:yScale(v),stroke:'#e9eded','stroke-width':3.5});
    
    
  });
  p.xTicks.forEach(v=>{
    const l=node(g,'line',{x1:xScale(v),x2:xScale(v),y1:p.top,y2:p.bottom,stroke:'#e9eded','stroke-width':7});
    
    
    const t=node(g,'line',{x1:xScale(v),x2:xScale(v),y1:p.bottom,y2:p.bottom+8,stroke:'#333333','stroke-width':3.5});
    
    
  });
  p.yTicks.forEach(v=>{
    const l=node(g,'line',{x1:p.left,x2:p.right,y1:yScale(v),y2:yScale(v),stroke:'#e9eded','stroke-width':7});
    
    
    const t=node(g,'line',{x1:p.left-8,x2:p.left,y1:yScale(v),y2:yScale(v),stroke:'#333333','stroke-width':3.5});
    
    
  });
  const border=node(g,'rect',{x:p.left,y:p.top,width:p.right-p.left,height:p.bottom-p.top,fill:'none',stroke:'#333333','stroke-width':4});
  
  

  p.brown.forEach(d=>drawCircle(g,xScale(d[0]),yScale(d[1])));
  p.black.forEach(d=>drawSquare(g,xScale(d[0]),yScale(d[1])));
  p.green.forEach(d=>drawTriangle(g,xScale(d[0]),yScale(d[1])));
  p.yellow.forEach(d=>drawDiamond(g,xScale(d[0]),yScale(d[1])));

  [['black',p.blackFit],['brown',p.brownFit],['green',p.greenFit],['yellow',p.yellowFit]].forEach(s=>{
    const l=node(g,'line',{x1:xScale(s[1][0][0]),y1:yScale(s[1][0][1]),x2:xScale(s[1][1][0]),y2:yScale(s[1][1][1]),stroke:colors[s[0]],'stroke-width':17});
    
    
  });

  p.xTicks.forEach((v,i)=>{
    const t=node(g,'text',{'font-size':71,fill:'#4d4d4d',stroke:'#4d4d4d','stroke-width':1.2,'text-anchor':'middle',transform:'translate('+(xScale(v)+p.xLabelDx[i])+' '+(p.xLabelY+25)+') scale(1.52 1)'});
    t.textContent=p.xLabels[i];
    
    
  });
  p.yTicks.forEach((v,i)=>{
    const t=node(g,'text',{'font-size':71,fill:'#4d4d4d',stroke:'#4d4d4d','stroke-width':1.2,'text-anchor':'end',transform:'translate('+p.yLabelRight[i]+' '+(yScale(v)-21+25)+') scale('+p.yLabelScale+' 1)'});
    t.textContent=p.yLabels[i];
    
    
  });

  const xt=node(g,'text',{'font-size':85,fill:'#000000',stroke:'#000000','stroke-width':1,'text-anchor':'middle'});
  xt.textContent='100-seed weight (g)';
  
  
  fitText(xt,p.xTitleX,p.xTitleY,false,p.xTitleW);

  const yt=node(g,'text',{'font-size':90,fill:'#000000','text-anchor':'middle','xml:space':'preserve'});
  yt.style.whiteSpace='pre';
  
  
  const s1=node(yt,'tspan',{});
  s1.textContent=p.yTitle[0];
  const s2=node(yt,'tspan',{'font-size':50,dy:-36});
  s2.textContent=p.yTitle[1];
  const s3=node(yt,'tspan',{dy:36});
  s3.textContent=p.yTitle[2];
  fitText(yt,p.yTitleX,p.yTitleY,true,p.yTitleLen);
}
panels.forEach(drawPanel);

// ---------- Legend ----------
const legendNames=['Brown','Black','Green','Yellow'];
const legendGroup=node(figure,'g',{});



const keyBrownLine=node(legendGroup,'line',{x1:1816,x2:2219,y1:3258,y2:3258,stroke:colors.brown,'stroke-width':15});


const keyBrownMark=node(legendGroup,'circle',{cx:2010,cy:3258,r:34,fill:colors.brown});



const keyBlackLine=node(legendGroup,'line',{x1:1815,x2:2218,y1:3512,y2:3512,stroke:colors.black,'stroke-width':15,'stroke-linecap':'round'});


const keyBlackMark=node(legendGroup,'rect',{x:1971,y:3479,width:68,height:68,fill:colors.black});



const keyGreenLine=node(legendGroup,'line',{x1:1809,x2:2211,y1:3765,y2:3765,stroke:colors.green,'stroke-width':14});


const keyGreenMark=node(legendGroup,'path',{d:'M2005 3708L2051 3787L1960 3787Z',fill:colors.green});



const keyYellowLine=node(legendGroup,'line',{x1:1802,x2:2206,y1:3982,y2:3982,stroke:colors.yellow,'stroke-width':16});


const keyYellowMark=node(legendGroup,'path',{d:'M2011 3947L2039 3982L2011 4017L1983 3982Z',fill:colors.yellow});



const legendLayout=[[2515,3257,345],[2505,3535,300],[2508,3774,340],[2513,4022,335]];
legendNames.forEach((name,i)=>{
  const t=node(legendGroup,'text',{'font-size':85,fill:'#000000',stroke:'#000000','stroke-width':1,'text-anchor':'middle'});
  t.textContent=name;
  
  
  fitText(t,legendLayout[i][0],legendLayout[i][1],false,legendLayout[i][2]);
});
</script>
</body>
</html>
